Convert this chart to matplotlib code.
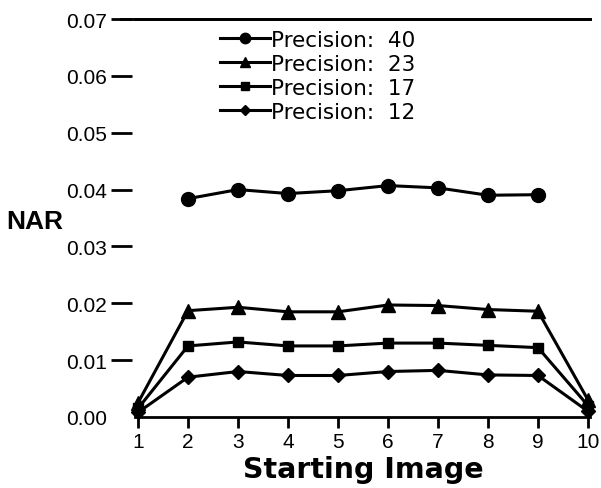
import numpy as np
import matplotlib
matplotlib.use('Agg')
import matplotlib.pyplot as plt

plt.rcParams['font.family'] = ['Liberation Sans', 'DejaVu Sans']

x_all = [1, 2, 3, 4, 5, 6, 7, 8, 9, 10]
x_mid = [2, 3, 4, 5, 6, 7, 8, 9]
p40 = [0.0384, 0.0400, 0.0393, 0.0398, 0.0407, 0.0403, 0.0390, 0.0391]
p23 = [0.0025, 0.0187, 0.0193, 0.0185, 0.0185, 0.0197, 0.0196, 0.0189, 0.0186, 0.0030]
p17 = [0.0015, 0.0125, 0.0132, 0.0125, 0.0125, 0.0130, 0.0130, 0.0126, 0.0122, 0.0020]
p12 = [0.0008, 0.0070, 0.0080, 0.0073, 0.0073, 0.0080, 0.0082, 0.0074, 0.0073, 0.0010]
labels = ['Precision:  40', 'Precision:  23', 'Precision:  17', 'Precision:  12']
yticks = [0.00, 0.01, 0.02, 0.03, 0.04, 0.05, 0.06, 0.07]
yticklabels = ['0.00', '0.01', '0.02', '0.03', '0.04', '0.05', '0.06', '0.07']

fig = plt.figure(figsize=(6.01, 4.89), dpi=100)
ax = fig.add_axes([0.2246, 0.1452, 0.7571, 0.8139])

lw = 2.2
ax.plot(x_mid, p40, '-o', color='black', lw=lw, ms=10, label=labels[0], clip_on=False)
ax.plot(x_all, p23, '-^', color='black', lw=lw, ms=10, label=labels[1], clip_on=False)
ax.plot(x_all, p17, '-s', color='black', lw=lw, ms=7.5, label=labels[2], clip_on=False)
ax.plot(x_all, p12, '-D', color='black', lw=lw, ms=7, label=labels[3], clip_on=False)

ax.set_xlim(0.94, 10.04)
ax.set_ylim(0, 0.07)
ax.set_xticks(x_all)
ax.set_yticks(yticks)
ax.set_yticklabels(yticklabels)

for s in ['left', 'right']:
    ax.spines[s].set_visible(False)
ax.spines['left'].set_position(('outward', 2))
ax.spines['top'].set_linewidth(2)
ax.spines['bottom'].set_linewidth(2)
ax.plot([-0.03, 1], [1, 1], transform=ax.transAxes, color='black', lw=2, clip_on=False)

ax.tick_params(axis='y', direction='out', length=15, width=2, pad=3, labelsize=15)
ax.tick_params(axis='x', direction='out', length=8, width=2, pad=3, labelsize=15)
# no dash at 0.00, the bottom axis sits there
ax.yaxis.get_major_ticks()[0].tick1line.set_visible(False)

ax.legend(loc='upper left', bbox_to_anchor=(220 / 601, 1 - 31 / 489), bbox_transform=fig.transFigure,
          frameon=False, prop={'family': 'DejaVu Sans', 'size': 15.5}, handlelength=2.3,
          handletextpad=0.05, labelspacing=0.18, borderaxespad=0, borderpad=0, markerscale=0.75)

fig.text(35 / 601, 1 - 222 / 489, 'NAR', fontsize=19, fontweight='bold', ha='center', va='center')
fig.text(363 / 601, 1 - 470 / 489, 'Starting Image', fontsize=20.5, fontweight='bold',
         family='DejaVu Sans', ha='center', va='center')

fig.savefig('out.png', dpi=100)
